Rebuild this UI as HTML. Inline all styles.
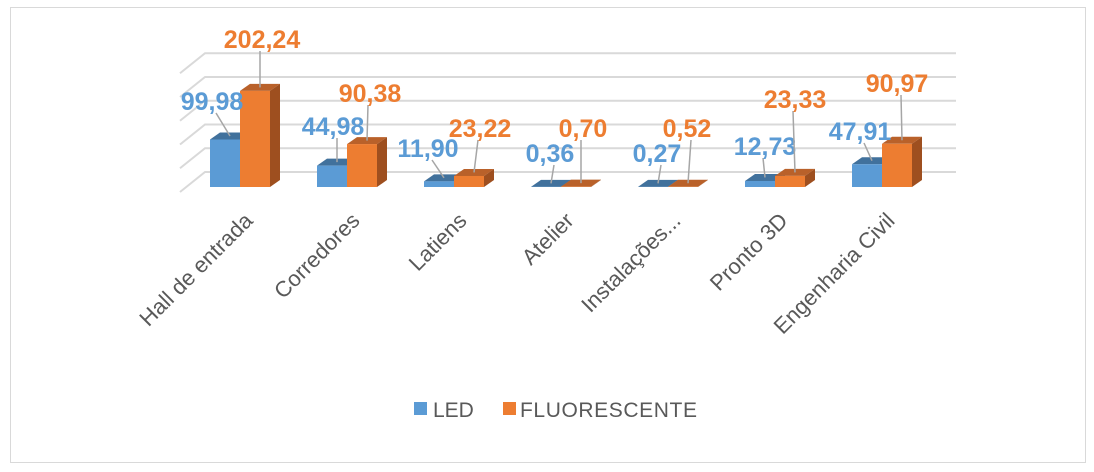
<!DOCTYPE html>
<html><head><meta charset="utf-8">
<style>
html,body{margin:0;padding:0;background:#fff;}
svg{display:block;font-family:"Liberation Sans",sans-serif;}
</style></head>
<body>
<svg width="1094" height="472" viewBox="0 0 1094 472" id="chart">
<rect x="10.5" y="7.5" width="1075" height="455" fill="#fff" stroke="#d9d9d9"/>
<g id="grid"></g>
<g id="bars"></g>
<g id="labels"></g>
<g id="cats"></g>
<g>
<g><rect x="414" y="402" width="13" height="13" fill="#5b9bd5"/><text x="433" y="417" font-size="21" fill="#595959">LED</text></g>
<g><rect x="503" y="402" width="13" height="13" fill="#ed7d31"/><text x="520" y="417" font-size="21" fill="#595959" textLength="177">FLUORESCENTE</text></g>
</g>
</svg>
<script>
const categories=["Hall de entrada","Corredores","Latiens","Atelier","Instalações...","Pronto 3D","Engenharia Civil"];
const ledValues=[99.98,44.98,11.90,0.36,0.27,12.73,47.91];
const fluorValues=[202.24,90.38,23.22,0.70,0.52,23.33,90.97];
const gridTicks=[0,50,100,150,200,250];
const NS="http://www.w3.org/2000/svg";
const base=187, scale=0.475, x0=210, step=107, bw=30, dx=10, dy=-7;
const y=v=>base-v*scale;
const gx=i=>x0+i*step;
function mk(tag,attrs,parent){const e=document.createElementNS(NS,tag);for(const k in attrs)e.setAttribute(k,attrs[k]);parent.appendChild(e);return e;}
const grid=document.getElementById('grid'),bars=document.getElementById('bars'),labels=document.getElementById('labels'),cats=document.getElementById('cats');
gridTicks.forEach(t=>{
  const yy=y(t)-15;
  const l=mk('polyline',{points:`180,${yy+20} 205,${yy} 956,${yy}`,fill:'none',stroke:'#d9d9d9','stroke-width':2},grid);
  
  
});
function bar(x,v,front,top,side,name){
  const g=mk('g',{},bars);
  
  
  const t=y(v);
  mk('polygon',{points:`${x},${t} ${x+dx},${t+dy} ${x+bw+dx},${t+dy} ${x+bw},${t}`,fill:top},g);
  mk('polygon',{points:`${x+bw},${t} ${x+bw+dx},${t+dy} ${x+bw+dx},${base+dy} ${x+bw},${base}`,fill:side},g);
  mk('rect',{x:x,y:t,width:bw,height:base-t,fill:front},g);
}
const ledLab=[[212,110],[333,135],[428,157],[550,162],[657,162],[765,155],[860,140]];
const flLab=[[262,48],[370,102],[480,137],[583,137],[687,137],[795,108],[897,92]];
function label(txt,pos,bx,v,color,name){
  const tx=bx+bw/2+dx/2, ty=y(v)+dy/2;
  const ln=mk('line',{x1:pos[0]+(tx>pos[0]?4:-2),y1:pos[1]+3,x2:tx,y2:ty,stroke:'#a6a6a6','stroke-width':1.5},labels);
  
  
  const t=mk('text',{x:pos[0],y:pos[1],'text-anchor':'middle','font-size':25,'font-weight':'bold',fill:color},labels);
  
  
  t.textContent=txt;
}
const fmt=v=>v.toFixed(2).replace('.',',');
categories.forEach((c,i)=>{
  const bx=gx(i);
  bar(bx,ledValues[i],'#5b9bd5','#41719c','#41719c','bar-led-'+i);
  bar(bx+bw,fluorValues[i],'#ed7d31','#b9612a','#9e4f1f','bar-fluor-'+i);
});
categories.forEach((c,i)=>{
  const bx=gx(i);
  label(fmt(ledValues[i]),ledLab[i],bx,ledValues[i],'#5b9bd5','label-led-'+i);
  label(fmt(fluorValues[i]),flLab[i],bx+bw,fluorValues[i],'#ed7d31','label-fluor-'+i);
  const cx=bx+bw+14, cy=222;
  const t=mk('text',{x:cx,y:cy,'text-anchor':'end','font-size':22,fill:'#595959',transform:`rotate(-45 ${cx} ${cy})`},cats);
  
  
  t.textContent=c;
});
</script>
</body></html>
